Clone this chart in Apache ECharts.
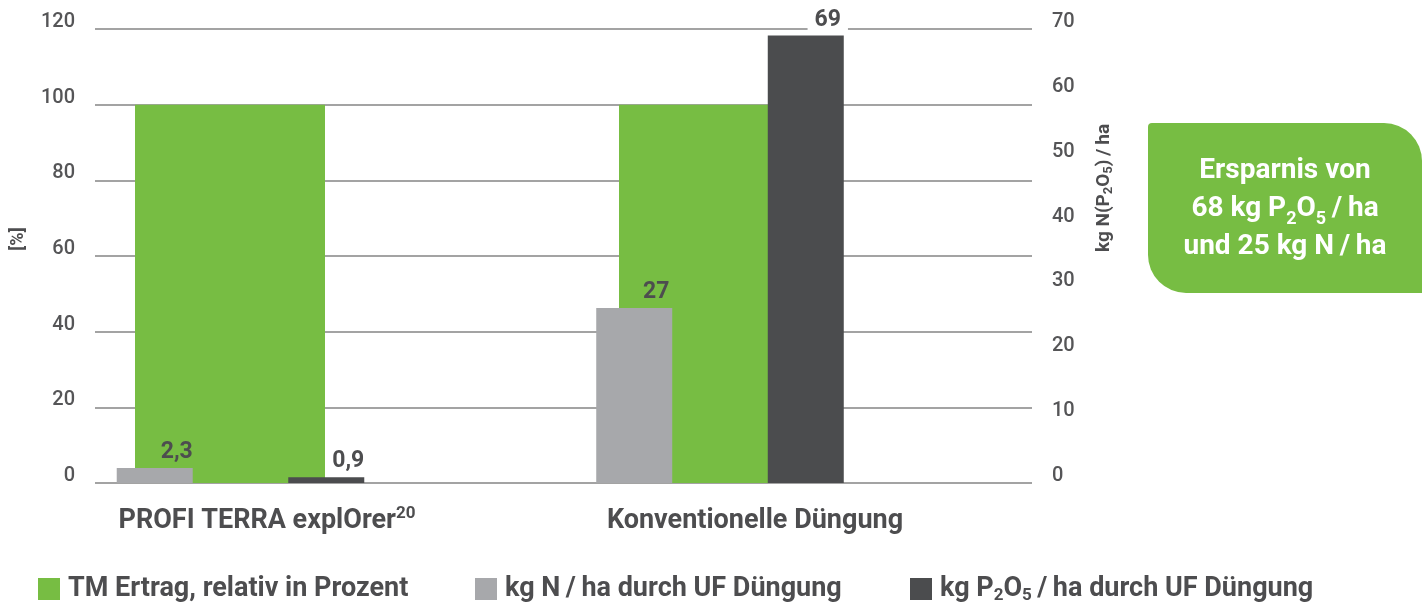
<!DOCTYPE html>
<html>
<head>
<meta charset="utf-8">
<script src="https://cdn.jsdelivr.net/npm/echarts@6/dist/echarts.min.js"></script>
<style>
  html, body { margin: 0; padding: 0; background: #fff; }
  #chart { width: 1426px; height: 603px; }
</style>
</head>
<body>
<div id="chart"></div>
<script>
// ---------- data ----------
const categories = ['PROFI TERRA explOrer²⁰', 'Konventionelle Düngung'];
const seriesNames = ['TM Ertrag, relativ in Prozent', 'kg N\u2009/\u2009ha durch UF Düngung', 'kg P₂O₅\u2009/\u2009ha durch UF Düngung'];
const yieldPercent = [100, 100];     // left axis [%]
const nitrogenKg = [2.3, 27];        // right axis kg/ha
const phosphateKg = [0.9, 69];       // right axis kg/ha
const leftAxis = { min: 0, max: 120, interval: 20, name: '[%]' };
const rightAxis = { min: 0, max: 70, interval: 10, name: 'kg N(P₂O₅)\u2009/\u2009ha' };
const savingsText = ['Ersparnis von', '68 kg P₂O₅\u2009/\u2009ha', 'und 25 kg N\u2009/\u2009ha'];

// ---------- styles ----------
const GREEN = '#77bd43', GREY = '#a7a8ab', DARK = '#4b4c4e', TEXT = '#4d4d4f';
const FONT = 'Roboto, "Open Sans", sans-serif';

function richify(s) {
  return s
    .replace(/[\u2080-\u2089]/g, c => '{sub|' + (c.charCodeAt(0) - 0x2080) + '}')
    .replace(/[\u00b2\u00b3\u00b9\u2070\u2074-\u2079]+/g, m => {
      const map = { '\u00b2': '2', '\u00b3': '3', '\u00b9': '1', '\u2070': '0' };
      return '{sup|' + m.split('').map(c => map[c] || String(c.charCodeAt(0) - 0x2070)).join('') + '}';
    });
}
const deComma = v => String(v).replace('.', ',');

const chart = echarts.init(document.getElementById('chart'), null, { renderer: 'canvas' });

const tickLabel = { color: '#555557', fontSize: 20, fontWeight: 500, fontFamily: FONT, margin: 20, verticalAlign: 'bottom', lineHeight: 14 };

const option = {
  animation: false,
  grid: [
    { left: 95, right: 394, top: 29, bottom: 120 },           // axes + gridlines
    { left: 230, width: 484, top: 29, bottom: 120 },          // yield bars (category ticks at edges)
    { left: 0.75, width: 959, top: 29, bottom: 120 },         // kg bars
    { left: 23, width: 976, top: 29, bottom: 120 }            // category labels
  ],
  xAxis: [
    { gridIndex: 0, type: 'category', data: categories, show: false },
    { gridIndex: 1, type: 'category', data: categories, show: false, boundaryGap: false },
    { gridIndex: 2, type: 'category', data: categories, show: false },
    {
      gridIndex: 3, type: 'category', data: categories,
      axisLine: { show: false }, axisTick: { show: false },
      axisLabel: {
        interval: 0, margin: 22, color: TEXT, fontSize: 27, fontWeight: 'bold', fontFamily: FONT, lineHeight: 32,
        formatter: v => richify(v),
        rich: { sup: { fontSize: 17, fontWeight: 'bold', fontFamily: FONT, color: TEXT, verticalAlign: 'top', lineHeight: 22 } }
      }
    }
  ],
  yAxis: [
    {
      gridIndex: 0, type: 'value', position: 'left', min: leftAxis.min, max: leftAxis.max, interval: leftAxis.interval,
      axisLine: { show: false }, axisTick: { show: false },
      splitLine: { show: true, lineStyle: { color: '#858585', width: 1.5 } },
      axisLabel: tickLabel,
      name: leftAxis.name, nameLocation: 'middle', nameGap: 68,
      nameTextStyle: { color: TEXT, fontSize: 18, fontWeight: 'bold', fontFamily: FONT, padding: [0, 0, 0, 34] }
    },
    {
      gridIndex: 0, type: 'value', position: 'right', min: rightAxis.min, max: rightAxis.max, interval: rightAxis.interval,
      axisLine: { show: false }, axisTick: { show: false }, splitLine: { show: false },
      axisLabel: tickLabel,
      name: richify(rightAxis.name), nameLocation: 'middle', nameGap: 61,
      nameTextStyle: {
        color: TEXT, fontSize: 19, fontWeight: 'bold', fontFamily: FONT, padding: [0, 0, 0, 136], lineHeight: 22,
        rich: { sub: { fontSize: 13, fontWeight: 'bold', fontFamily: FONT, color: TEXT, verticalAlign: 'bottom', lineHeight: 12 } }
      }
    },
    { gridIndex: 1, type: 'value', min: leftAxis.min, max: leftAxis.max, show: false },
    { gridIndex: 2, type: 'value', min: rightAxis.min, max: rightAxis.max, show: false },
    { gridIndex: 3, type: 'value', show: false }
  ],
  legend: [
    { left: 33 }, { left: 470 }, { left: 905 }
  ].map((pos, i) => ({
    left: pos.left, top: 569, orient: 'horizontal',
    data: [seriesNames[i]], selectedMode: false,
    icon: 'rect', itemWidth: 22, itemHeight: 22,
    formatter: n => richify(n),
    textStyle: {
      color: TEXT, fontSize: 27, fontWeight: 'bold', fontFamily: FONT, lineHeight: 30, padding: [0, 0, 0, 3],
      rich: { sub: { fontSize: 17, fontWeight: 'bold', fontFamily: FONT, color: TEXT, verticalAlign: 'bottom', lineHeight: 13 } }
    }
  })),
  series: [
    {
      name: seriesNames[0], type: 'bar', xAxisIndex: 1, yAxisIndex: 2, clip: false,
      data: yieldPercent, barWidth: 190, itemStyle: { color: GREEN }
    },
    {
      name: seriesNames[1], type: 'bar', xAxisIndex: 2, yAxisIndex: 3,
      data: nitrogenKg, barWidth: 76, barGap: '125.7%', itemStyle: { color: GREY },
      label: {
        show: true, position: 'top', distance: 4, offset: [22, 0],
        formatter: p => deComma(p.value),
        color: TEXT, fontSize: 23, fontWeight: 'bold', fontFamily: FONT
      }
    },
    {
      name: seriesNames[2], type: 'bar', xAxisIndex: 2, yAxisIndex: 3,
      data: phosphateKg, barWidth: 76, barGap: '125.7%', itemStyle: { color: DARK },
      label: {
        show: true, position: 'top', distance: 4, offset: [22, 0],
        formatter: p => deComma(p.value),
        color: TEXT, fontSize: 23, fontWeight: 'bold', fontFamily: FONT,
        backgroundColor: '#fff', padding: [2, 7, 0, 7]
      }
    }
  ],
  graphic: [
    {
      type: 'rect', shape: { x: 1148, y: 123, width: 274, height: 170, r: [4, 38, 0, 38] },
      style: { fill: GREEN }, z: 10
    },
    {
      type: 'text', x: 1285, y: 209, z: 11,
      style: {
        text: savingsText.map(richify).join('\n'),
        fill: '#fff', fontSize: 28, fontWeight: 'bold', fontFamily: FONT,
        align: 'center', verticalAlign: 'middle', lineHeight: 38,
        rich: { sub: { fill: '#fff', fontSize: 18, fontWeight: 'bold', fontFamily: FONT, verticalAlign: 'bottom', lineHeight: 18 } }
      }
    }
  ]
};
chart.setOption(option);
</script>
</body>
</html>
